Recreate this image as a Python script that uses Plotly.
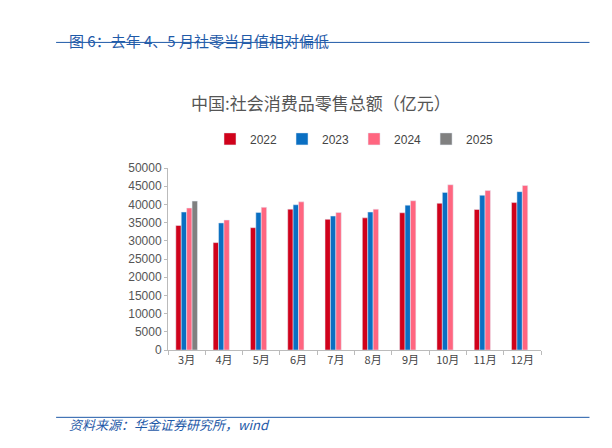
import plotly.graph_objects as go

months = ['3月', '4月', '5月', '6月', '7月', '8月', '9月', '10月', '11月', '12月']
v2022 = [34200, 29500, 33600, 38700, 35900, 36300, 37700, 40300, 38600, 40500]
v2023 = [37900, 34900, 37800, 39900, 36800, 37900, 39800, 43300, 42500, 43500]
v2024 = [39000, 35700, 39200, 40700, 37800, 38700, 41000, 45400, 43800, 45200]
v2025 = [40900, None, None, None, None, None, None, None, None, None]

font = 'Noto Sans CJK SC'
fig = go.Figure()
for name, vals, col in [('2022', v2022, '#d0021b'), ('2023', v2023, '#0a6fc2'),
                        ('2024', v2024, '#ff6680'), ('2025', v2025, '#808080')]:
    fig.add_trace(go.Bar(x=months, y=vals, name=name, marker_color=col))

fig.update_layout(
    width=612, height=448, plot_bgcolor='white', paper_bgcolor='white',
    font=dict(family=font, size=11, color='#444'),
    barmode='group', bargap=0.42, bargroupgap=0,
    margin=dict(l=160, r=79, t=160, b=106),
    legend=dict(orientation='h', x=0.5, xanchor='center', y=1.16, yanchor='middle',
                font=dict(size=12, family='Liberation Sans'), itemwidth=30,
                traceorder='normal', tracegroupgap=0),
    xaxis=dict(showline=True, linecolor='#bbb', ticks='outside', tickcolor='#bbb',
               tickson='boundaries', ticklen=4),
    yaxis=dict(range=[0, 50000], dtick=5000, tickformat='d', showgrid=False, showline=True,
               linecolor='#bbb', ticks='outside', tickcolor='#bbb', ticklen=3,
               tickfont=dict(family='Liberation Sans', size=12, color='#555')),
)
fig.add_annotation(text='图 6：去年 4、5 月社零当月值相对偏低', xref='paper', yref='paper',
                   x=-0.27, y=1.77, xanchor='left', showarrow=False,
                   font=dict(size=15, color='#1f5aa8', family=font))
fig.add_shape(type='line', xref='paper', yref='paper', x0=-0.3, x1=1.13, y0=1.69, y1=1.69,
              line=dict(color='#1f5aa8', width=1))
fig.add_annotation(text='中国:社会消费品零售总额（亿元）', xref='paper', yref='paper',
                   x=0.41, y=1.36, yanchor='middle', showarrow=False,
                   font=dict(size=17, color='#555', family=font))
fig.add_shape(type='line', xref='paper', yref='paper', x0=-0.3, x1=1.13, y0=-0.37, y1=-0.37,
              line=dict(color='#1f5aa8', width=1))
fig.add_annotation(text='<i>资料来源：华金证券研究所，wind</i>', xref='paper', yref='paper',
                   x=-0.27, y=-0.47, xanchor='left', showarrow=False,
                   font=dict(size=13, color='#1f5aa8', family=font))
fig.write_html('out.html')
